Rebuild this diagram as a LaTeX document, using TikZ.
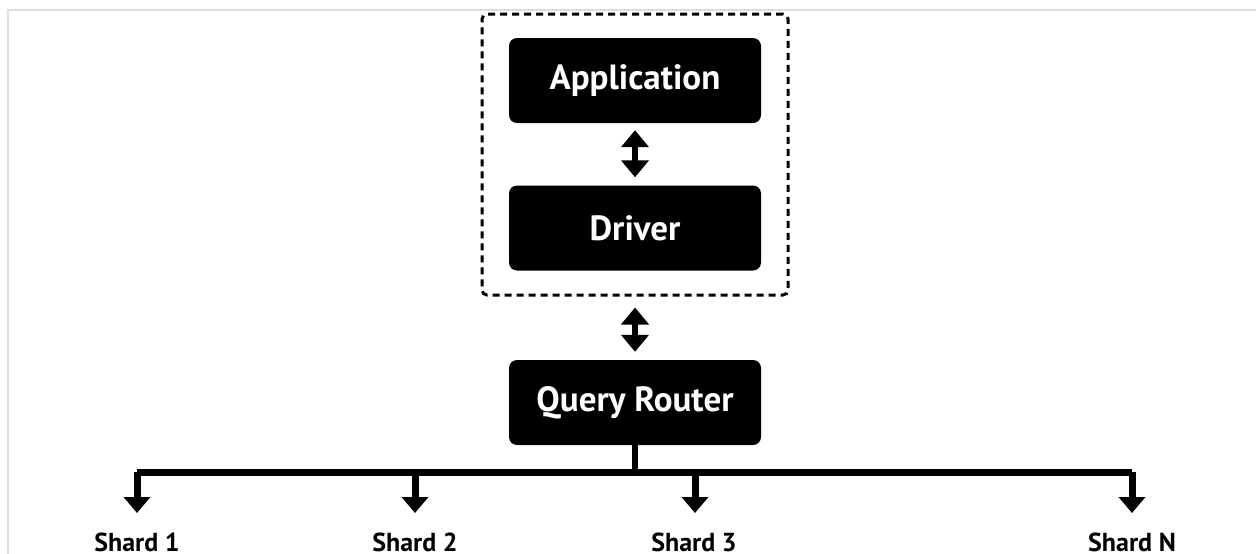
\documentclass[tikz,border=0pt]{standalone}
\usepackage{fontspec}
\setmainfont{PT Sans}
\usetikzlibrary{arrows.meta}
\tikzset{
  blackbox/.style={fill=black, rounded corners=8pt, minimum width=252pt, minimum height=85pt,
    inner sep=0pt, text=white, font=\bfseries\fontsize{35}{40}\selectfont},
  grpbox/.style={draw=black, line width=3pt, dash pattern=on 7pt off 5pt, rounded corners=5pt,
    minimum width=306pt, minimum height=281pt, inner sep=0pt},
  dblarr/.style={line width=6pt, {Triangle[width=27pt,length=17pt]}-{Triangle[width=27pt,length=17pt]}},
  busline/.style={line width=7pt},
  downarr/.style={line width=7pt, -{Triangle[width=26pt,length=16pt]}},
  shardlbl/.style={font=\bfseries\fontsize{26}{30}\selectfont, anchor=base, inner sep=0pt}
}
\begin{document}
\begin{tikzpicture}[x=1pt,y=-1pt]
\useasboundingbox (0,0) rectangle (1256,554);
\draw[draw=black!13, line width=2pt] (8,560) -- (8,10) -- (1262,10);
\node[grpbox] (grp) at (635,154.5) {};
\node[blackbox] (app) at (635,80.5) {Application};
\node[blackbox] (drv) at (635,228) {Driver};
\node[blackbox] (qr) at (635,402.5) {Query Router};
\draw[dblarr] ([yshift=-7pt]app.south) -- ([yshift=8pt]drv.north);
\draw[dblarr] ([yshift=-11pt]grp.south) -- ([yshift=8pt]qr.north);
\coordinate (bq) at (635,472);
\coordinate (b1) at (137,472);
\coordinate (b2) at (415,472);
\coordinate (b3) at (695,472);
\coordinate (bn) at (1132,472);
\coordinate (t1) at (137,513);
\coordinate (t2) at (415,513);
\coordinate (t3) at (695,513);
\coordinate (tn) at (1132,513);
\draw[line width=6pt] (qr.south) -- (bq);
\draw[busline, line cap=square] (b1) -- (bn);
\draw[downarr] (b1) -- (t1);
\draw[downarr] (b2) -- (t2);
\draw[downarr] (b3) -- (t3);
\draw[downarr] (bn) -- (tn);
\node[shardlbl] (s1) at (137,551) {Shard 1};
\node[shardlbl] (s2) at (415,551) {Shard 2};
\node[shardlbl] (s3) at (694,551) {Shard 3};
\node[shardlbl] (sn) at (1132,551) {Shard N};
\end{tikzpicture}
\end{document}
